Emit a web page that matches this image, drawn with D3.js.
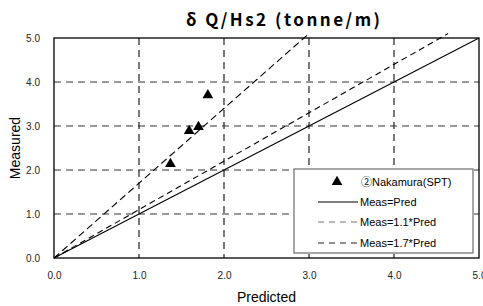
<!DOCTYPE html>
<html>
<head>
<meta charset="utf-8">
<script src="https://cdn.jsdelivr.net/npm/d3@7"></script>
<style>
  body { margin: 0; background: #fff; }
  text { font-family: Arial, "Liberation Sans", sans-serif; }
</style>
</head>
<body>
<figure id="chart" style="margin:0"></figure>
<script>
// measured vs predicted points, Nakamura (SPT)
const predicted = [1.37, 1.59, 1.70, 1.81];
const measured = [2.14, 2.89, 2.98, 3.70];
const xTicks = [0, 1, 2, 3, 4, 5];
const yTicks = [0, 1, 2, 3, 4, 5];
const ratios = [1.0, 1.1, 1.7];
const legendLabels = ["②Nakamura(SPT)", "Meas=Pred", "Meas=1.1*Pred", "Meas=1.7*Pred"];

const W = 483, H = 306;
const margin = { top: 38, right: 4, bottom: 48, left: 54 };
const width = W - margin.left - margin.right;
const height = H - margin.top - margin.bottom;

const svg = d3.select("#chart").append("svg")
  .attr("width", W).attr("height", H);

const g = svg.append("g")
  .attr("transform", `translate(${margin.left},${margin.top})`);

const x = d3.scaleLinear().domain([0, 5]).range([0, width]);
const y = d3.scaleLinear().domain([0, 5]).range([height, 0]);

// grid
g.selectAll(".hgrid").data(yTicks.slice(1, -1)).enter().append("line")
  .attr("x1", 0).attr("x2", width)
  .attr("y1", d => y(d)).attr("y2", d => y(d))
  .attr("stroke", "#777").attr("stroke-width", 1.3).attr("stroke-dasharray", "7,5");
g.selectAll(".vgrid").data(xTicks.slice(1, -1)).enter().append("line")
  .attr("x1", d => x(d)).attr("x2", d => x(d))
  .attr("y1", 0).attr("y2", height)
  .attr("stroke", "#222").attr("stroke-width", 1.2).attr("stroke-dasharray", "7,5");

// frame
g.append("rect").attr("width", width).attr("height", height)
  .attr("fill", "none").attr("stroke", "#000").attr("stroke-width", 1.3);

// axes labels via d3 axes
const xAxis = g.append("g").attr("transform", `translate(0,${height})`)
  .call(d3.axisBottom(x).tickValues(xTicks).tickFormat(d3.format(".1f")).tickSize(0).tickPadding(14));
const yAxis = g.append("g")
  .call(d3.axisLeft(y).tickValues(yTicks).tickFormat(d3.format(".1f")).tickSize(0).tickPadding(14));
[xAxis, yAxis].forEach(a => {
  a.select(".domain").remove();
  a.selectAll("text").attr("font-size", 10).attr("fill", "#222")
    .style("font-family", "Arial, 'Liberation Sans', sans-serif");
});

// reference lines
const dashes = [null, "6,4", "7,4"];
ratios.forEach((r, i) => {
  const xEnd = Math.min(5, 5.1 / r);
  g.append("line")
    .attr("x1", x(0)).attr("y1", y(0))
    .attr("x2", x(xEnd)).attr("y2", y(xEnd * r))
    .attr("stroke", "#000").attr("stroke-width", 1.1)
    .attr("stroke-dasharray", dashes[i]);
});

// points
const tri = d3.symbol().type(d3.symbolTriangle).size(50);
g.selectAll(".pt").data(predicted).enter().append("path")
  .attr("d", tri)
  .attr("transform", (d, i) => `translate(${x(d)},${y(measured[i])})`)
  .attr("fill", "#000");

// legend
const lg = svg.append("g").attr("transform", "translate(294,169)");
lg.append("rect").attr("width", 179).attr("height", 84)
  .attr("fill", "#fff").attr("stroke", "#777").attr("stroke-width", 1.3);
const rowY = [13, 33, 53, 74];
lg.append("path").attr("d", tri)
  .attr("transform", `translate(43,${rowY[0]})`).attr("fill", "#000");
const legendDash = [null, "6,5", "6,5"];
const legendColor = ["#000", "#777", "#222"];
[1, 2, 3].forEach(k => {
  lg.append("line").attr("x1", 24).attr("x2", 64)
    .attr("y1", rowY[k]).attr("y2", rowY[k])
    .attr("stroke", legendColor[k - 1]).attr("stroke-width", 1.2)
    .attr("stroke-dasharray", legendDash[k - 1]);
});
lg.selectAll(".lt").data(legendLabels).enter().append("text")
  .attr("x", (d, i) => i === 0 ? 67 : 66)
  .attr("y", (d, i) => rowY[i])
  .attr("dy", "0.35em")
  .attr("font-size", 11)
  .style("font-family", "Arial, 'Noto Sans CJK JP', sans-serif")
  .text(d => d);

// titles
svg.append("text")
  .attr("x", 283).attr("y", 26)
  .attr("text-anchor", "middle")
  .attr("font-size", 17).attr("font-weight", "bold")
  .attr("textLength", 194).attr("lengthAdjust", "spacing")
  .style("font-family", "'Noto Sans CJK JP', sans-serif")
  .text("δ Q/Hs2 (tonne/m)");

svg.append("text")
  .attr("x", margin.left + width / 2).attr("y", 302)
  .attr("text-anchor", "middle").attr("font-size", 14)
  .text("Predicted");

svg.append("text")
  .attr("transform", `translate(20,${margin.top + height / 2}) rotate(-90)`)
  .attr("text-anchor", "middle").attr("font-size", 14)
  .text("Measured");
</script>
</body>
</html>
